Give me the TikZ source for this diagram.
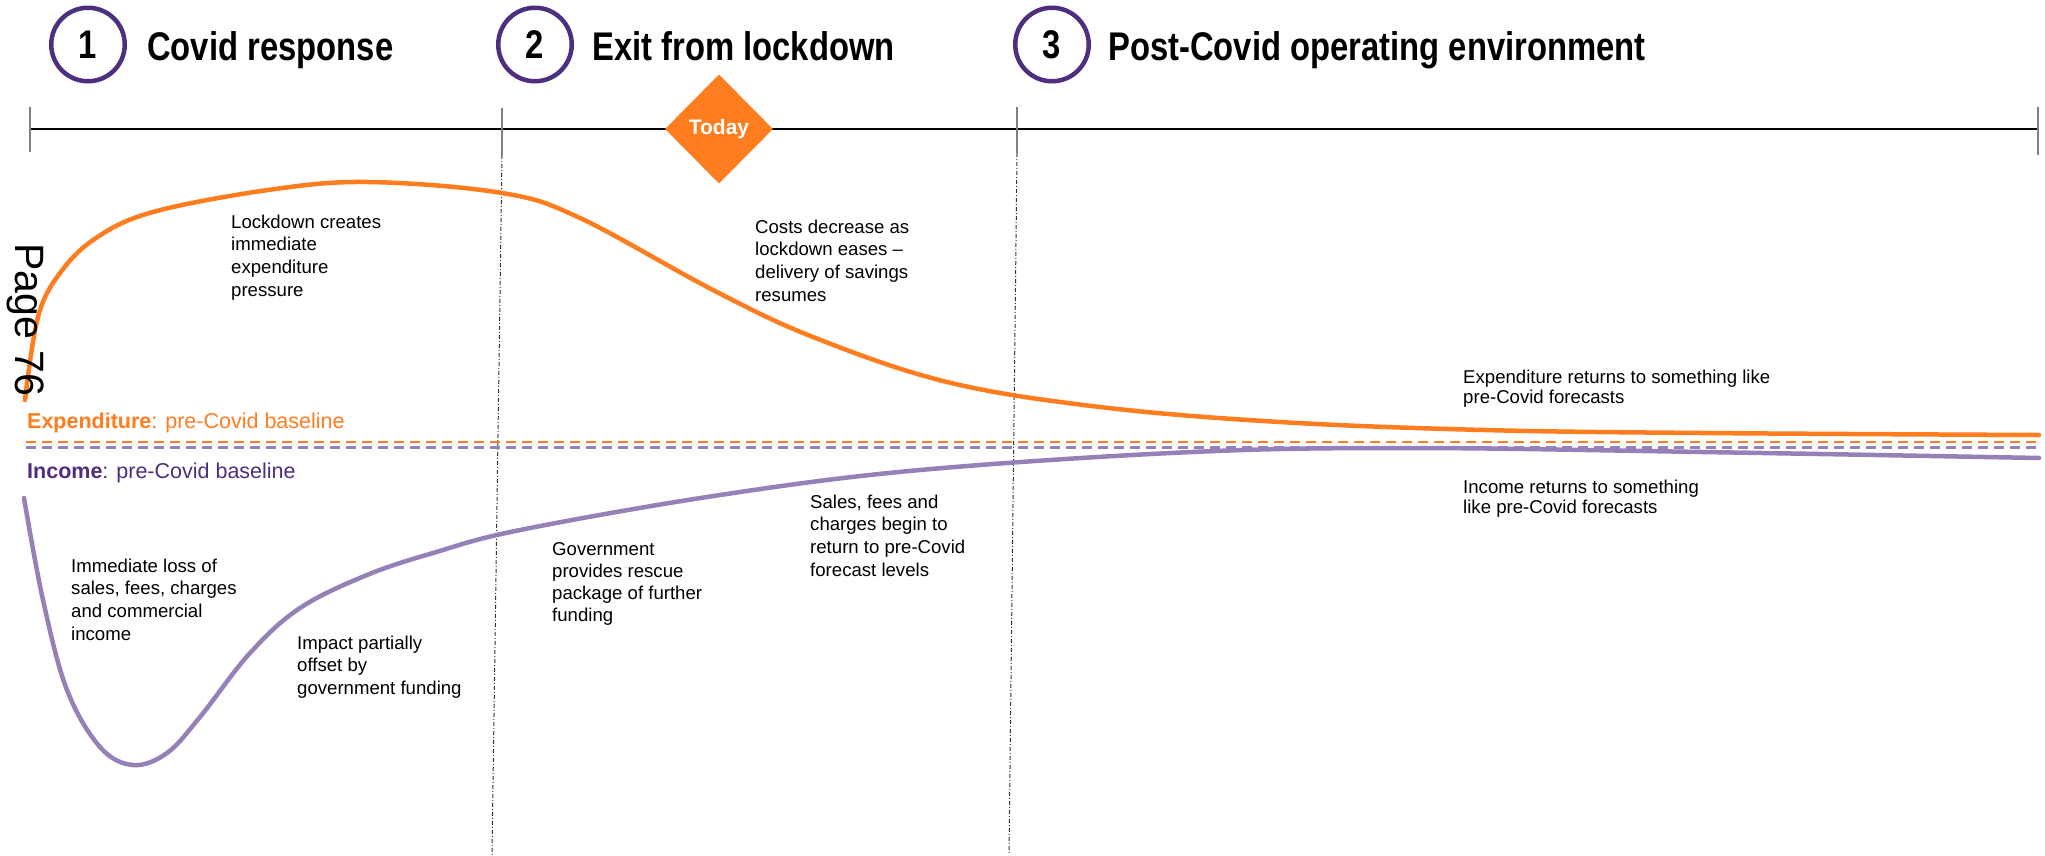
\documentclass[tikz,border=0pt]{standalone}
\usepackage{fontspec}
\setmainfont{Liberation Sans}
\newfontfamily\narrowfont{Liberation Sans}[FakeStretch=0.82]
\usetikzlibrary{shapes.geometric}
\definecolor{gtorange}{RGB}{255,125,30}
\definecolor{gtpurple}{RGB}{79,45,127}
\definecolor{lavender}{RGB}{150,128,184}
\definecolor{tickgray}{RGB}{128,128,128}
\begin{document}
\begin{tikzpicture}[x=1pt,y=-1pt,
  phase/.style={circle, draw=gtpurple, line width=4.5pt, minimum size=73.5pt, inner sep=0pt,
    font=\narrowfont\bfseries\fontsize{40}{40}\selectfont},
  phasetitle/.style={anchor=base west, inner sep=0pt, font=\narrowfont\bfseries\fontsize{40}{48}\selectfont},
  todaybox/.style={diamond, fill=gtorange, minimum width=108pt, minimum height=109pt, inner sep=0pt,
    text=white, font=\bfseries\fontsize{21}{21}\selectfont},
  axisline/.style={line width=1.3pt, black},
  tickline/.style={line width=1.6pt, tickgray},
  divider/.style={line width=1pt, black!80, dash pattern=on 4pt off 2pt on 1pt off 2pt},
  note/.style={anchor=base west, inner sep=0pt, align=left, font=\fontsize{18.6}{22.7}\selectfont},
  notetight/.style={note, font=\fontsize{18.6}{20.7}\selectfont},
  baselabel/.style={anchor=base west, inner sep=0pt, font=\fontsize{21.5}{24}\selectfont},
  expcurve/.style={line width=4.5pt, gtorange, line cap=round},
  inccurve/.style={line width=4.5pt, lavender, line cap=round},
  expdash/.style={line width=2.2pt, gtorange, dash pattern=on 10pt off 6pt},
  incdash/.style={line width=2.2pt, lavender, dash pattern=on 10pt off 6pt},
]
\useasboundingbox (0,0) rectangle (2045,855);

% phase headers
\node[phase] (c1) at (88,44.5) {1};
\node[phase] (c2) at (535,44.5) {2};
\node[phase] (c3) at (1052,44.5) {3};
\node[phasetitle] (t1) at (147,60) {Covid response};
\node[phasetitle] (t2) at (592,60) {Exit from lockdown};
\node[phasetitle] (t3) at (1108,60) {Post-Covid operating environment};

% timeline
\coordinate (a0) at (30,129);
\coordinate (a3) at (2038,129);
\draw[axisline] (a0) -- (a3);
\coordinate (k0t) at (30,107);   \coordinate (k0b) at (30,152);
\coordinate (k1t) at (502,108);  \coordinate (k1b) at (502,155);
\coordinate (k2t) at (1017,107); \coordinate (k2b) at (1017,153);
\coordinate (k3t) at (2038,107); \coordinate (k3b) at (2038,155);
\draw[tickline] (k0t) -- (k0b);
\draw[tickline] (k1t) -- (k1b);
\draw[tickline] (k2t) -- (k2b);
\draw[tickline] (k3t) -- (k3b);
\coordinate (d1b) at (492,855);
\coordinate (d2b) at (1009,855);
\draw[divider] (k1b) -- (d1b);
\draw[divider] (k2b) -- (d2b);
\node[todaybox] (today) at (719,129) {Today};

% baselines
\coordinate (eb0) at (26,442); \coordinate (eb1) at (2040,442);
\coordinate (ib0) at (26,447.5); \coordinate (ib1) at (2040,447.5);
\draw[expdash] (eb0) -- (eb1);
\draw[incdash] (ib0) -- (ib1);
\node[baselabel, text=gtorange] (explab) at (27,428) {\textbf{Expenditure}: pre-Covid baseline};
\node[baselabel, text=gtpurple] (inclab) at (27,478) {\textbf{Income}: pre-Covid baseline};

% curves
\draw[expcurve] plot[smooth, tension=0.6] coordinates {
  (25,400) (38,317) (60,273) (96,238) (153,212) (268,190) (368,182) (502,193)
  (580,218) (713,290) (813,337) (947,382) (1100,407) (1280,422) (1484,430) (1703,433) (2039,435)};
\draw[inccurve] plot[smooth, tension=0.6] coordinates {
  (24,498) (43,600) (67,690) (100,747) (133,765) (167,753) (200,717) (250,653) (300,608)
  (367,575) (433,553) (520,530) (720,495) (920,470) (1192,452) (1411,448) (1703,452) (2039,458)};

% page stamp
\node[rotate=-90, anchor=base west, inner sep=0pt, font=\fontsize{41}{41}\selectfont] (page) at (16,243) {Page 76};

% notes (anchor = baseline of the last line)
\node[note] (lock) at (231,296.1) {Lockdown creates\\immediate\\expenditure\\pressure};
\node[note] (costs) at (755,301.1) {Costs decrease as\\lockdown eases –\\delivery of savings\\resumes};
\node[notetight] (expret) at (1463,403.7) {Expenditure returns to something like\\pre-Covid forecasts};
\node[notetight] (incret) at (1463,513.7) {Income returns to something\\like pre-Covid forecasts};
\node[note] (loss) at (71,640.1) {Immediate loss of\\sales, fees, charges\\and commercial\\income};
\node[note] (impact) at (297,694.4) {Impact partially\\offset by\\government funding};
\node[note, font=\fontsize{18.6}{22}\selectfont] (gov) at (552,621) {Government\\provides rescue\\package of further\\funding};
\node[note] (sales) at (810,576.1) {Sales, fees and\\charges begin to\\return to pre-Covid\\forecast levels};
\end{tikzpicture}
\end{document}
